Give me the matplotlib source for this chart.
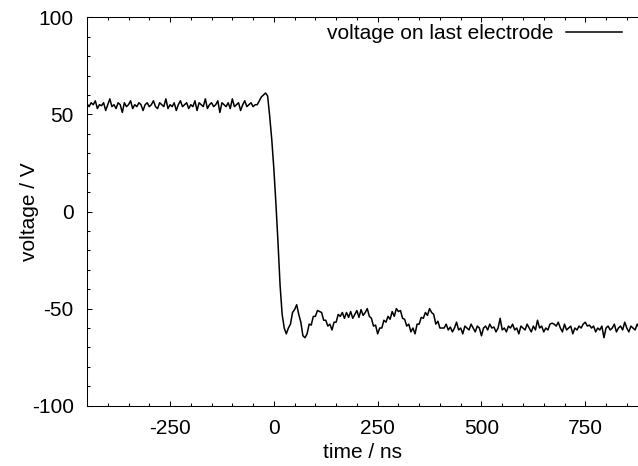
import matplotlib.pyplot as plt
import numpy as np
from matplotlib.ticker import MultipleLocator

plt.rcParams["font.family"] = ["Liberation Sans", "DejaVu Sans"]
plt.rcParams["font.size"] = 15
plt.rcParams["axes.unicode_minus"] = False

# sampled every 5 ns, starting at t = -450 ns
t_start = -450
t_step = 5

# flat top before the switch (-450 .. -40 ns)
v_before = [
    55.5, 54, 56, 55, 57, 53, 55, 54.5, 56, 52, 55, 58, 54, 55, 53, 56, 55, 51, 56, 54,
    55, 57, 53, 55, 54, 56, 55, 52, 55, 56, 54, 55, 57, 54, 53, 56, 55, 54, 58, 53,
    55, 54, 56, 52, 55, 57, 54, 55, 56, 53, 55, 54, 57, 52, 56, 55, 54, 58, 53, 55,
    56, 54, 55, 57, 51, 56, 55, 54, 56, 53, 58, 54, 55, 56, 52, 55, 57, 54, 55, 56,
    54, 55, 55,
]
# overshoot, fall and first ringing (-35 .. 160 ns)
v_step = [
    57, 59, 60, 61, 59.5, 49, 37, 22, 4, -16,
    -38, -53, -60, -63, -60, -58, -52, -50.5, -48, -53,
    -57, -64, -65, -63, -58, -58.5, -54, -54, -51, -51.5,
    -52, -56, -56, -59, -58, -61, -57, -57, -53, -54,
]
# short plateau (165 .. 220 ns)
v_plateau = [-52, -55, -52, -54.5, -51.5, -55, -53, -51, -54.5, -50.5, -53.5, -52]
# slow ringing (225 .. 405 ns)
v_ring = [
    -50, -54, -55, -59, -58.5, -63, -60, -60, -56, -57,
    -54, -55.5, -51.5, -54, -50, -51.5, -51, -55, -55.5, -59,
    -58, -62, -60, -63, -58, -58, -54.5, -55, -52, -53.5,
    -50, -52, -53, -58, -56.5, -60, -60,
]
# settled level (410 .. 880 ns)
v_tail = [
    -60, -58, -61, -59.5, -62, -60, -57, -61, -60, -63,
    -59, -60, -61, -58, -60, -62, -59, -60, -64, -60,
    -59, -61, -58, -60, -59.5, -62, -60, -55, -61, -60,
    -62, -59, -60, -58, -61, -60, -63, -59, -60, -61,
    -58, -60, -62, -59, -61, -56, -60, -59, -62, -60,
    -61, -58, -57.5, -58, -59, -57, -60, -62, -58, -61,
    -60, -59, -63, -60, -61, -59, -60, -58, -57, -59,
    -58.5, -60, -59, -62, -60, -61, -59, -65, -60, -59,
    -61, -60, -58, -62, -60, -59, -61, -57, -60, -62,
    -59, -60, -61, -58, -60,
]

voltage = np.array(v_before + v_step + v_plateau + v_ring + v_tail)
time = t_start + t_step * np.arange(len(voltage))

fig = plt.figure(figsize=(6.38, 4.66), dpi=100)
ax = fig.add_axes([87 / 638, 1 - 405.7 / 466, 1 - 87 / 638, (405.7 - 17.3) / 466])

ax.plot(time, voltage, "k-", lw=1.1, label="voltage on last electrode")

ax.set_xlim(-450, 877)
ax.set_ylim(-100, 100)
ax.xaxis.set_major_locator(MultipleLocator(250))
ax.xaxis.set_minor_locator(MultipleLocator(50))
ax.yaxis.set_major_locator(MultipleLocator(50))
ax.yaxis.set_minor_locator(MultipleLocator(10))
ax.tick_params(which="both", direction="in", top=True, right=False, width=0.75)
ax.tick_params(which="major", length=3.8, pad=9.5)
ax.tick_params(which="minor", length=1.9)
ax.spines["right"].set_visible(False)
for s in ("left", "bottom", "top"):
    ax.spines[s].set_linewidth(0.75)

ax.set_xlabel("time / ns", labelpad=4)
ax.set_ylabel("voltage / V")
ax.yaxis.set_label_coords(-0.088, 0.5)

ax.legend(
    loc="upper right",
    bbox_to_anchor=(622 / 638, 1 - 24 / 466),
    bbox_transform=fig.transFigure,
    frameon=False,
    markerfirst=False,
    handlelength=2.7,
    handletextpad=0.6,
    borderpad=0,
    borderaxespad=0,
)

fig.savefig("out.png", dpi=100)
